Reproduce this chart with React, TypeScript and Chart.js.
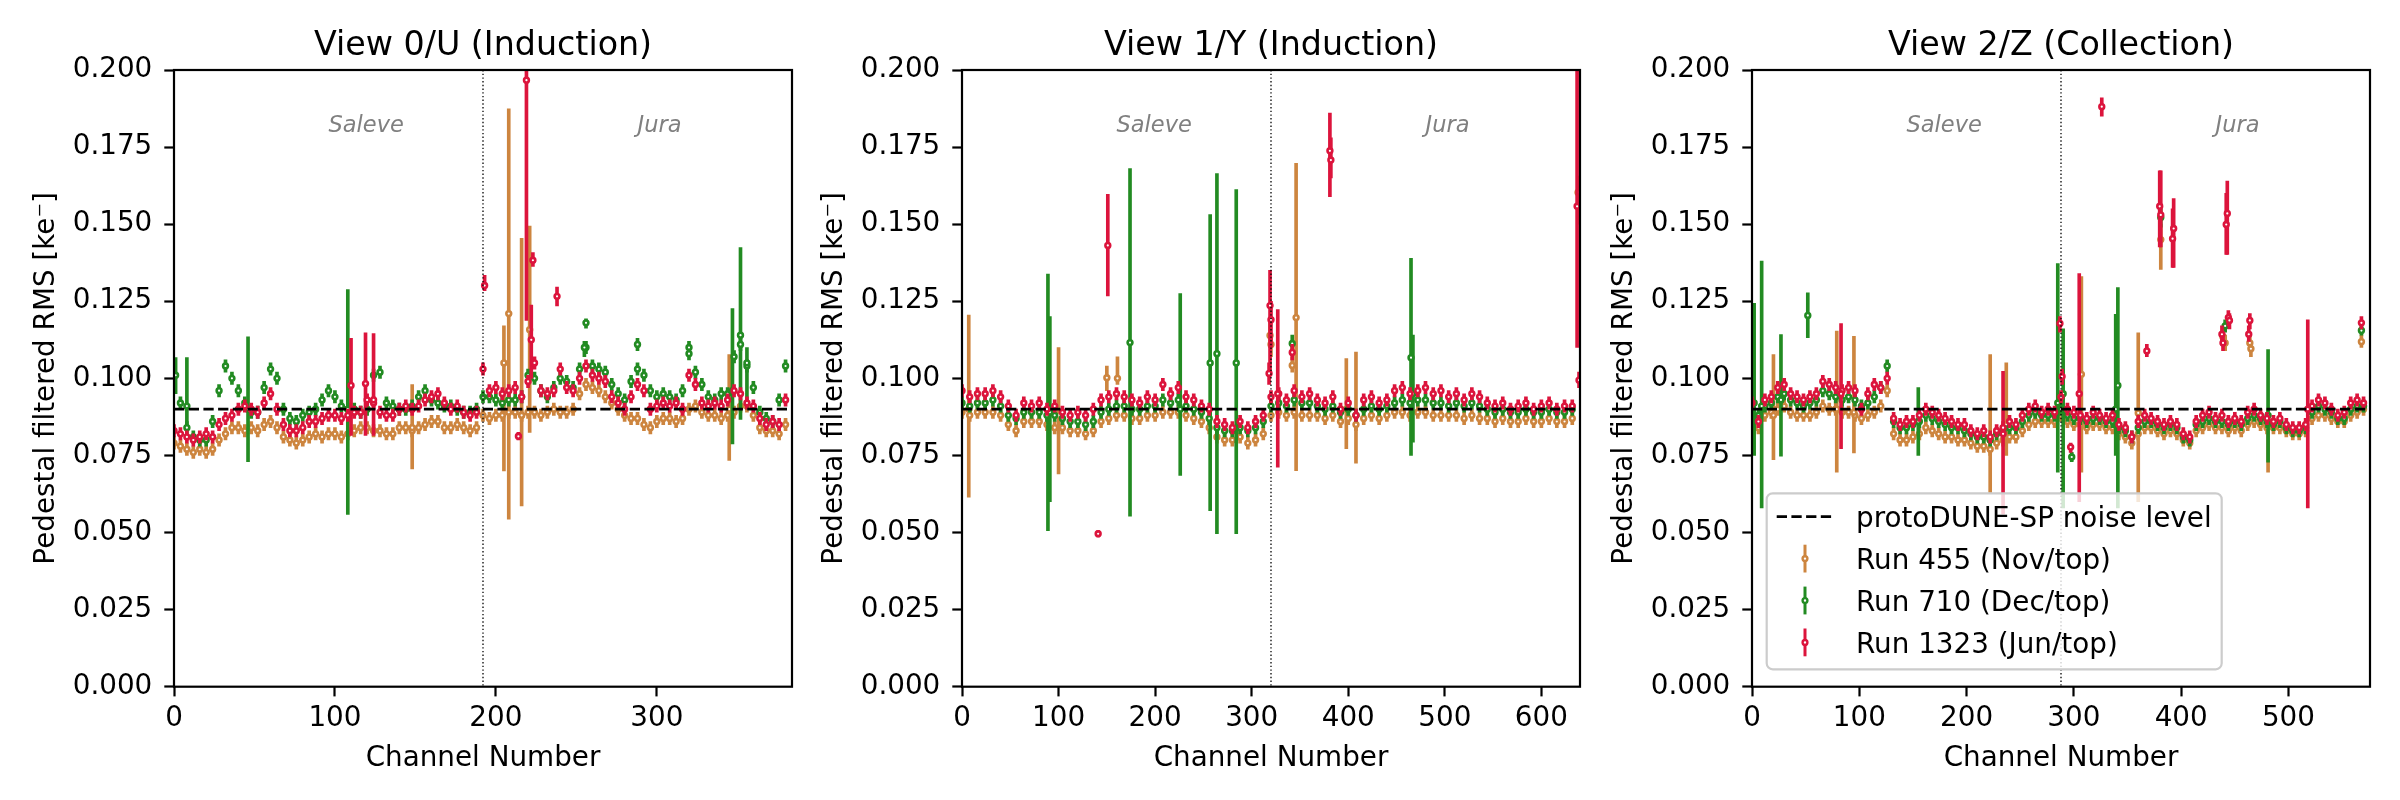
import React, { useEffect, useRef } from "react";
import { Chart, registerables } from "chart.js";
Chart.register(...registerables);
Chart.defaults.font.family = "'DejaVu Sans', sans-serif";
Chart.defaults.color = "#000";

// ---------- data ----------
const PANEL_TITLES = ["View 0/U (Induction)", "View 1/Y (Induction)", "View 2/Z (Collection)"];
const PANEL_CHANNELS = [384, 640, 576];
const PANEL_STEPS = [4, 8, 6];
const DIVIDERS = [192, 320, 288];
const REGION_LABELS = ["Saleve", "Jura"];
const RUN_LABELS = ["Run 455 (Nov/top)", "Run 710 (Dec/top)", "Run 1323 (Jun/top)"];
const RUN_COLORS = ["#CD853F", "#228B22", "#DC143C"];
const NOISE_LABEL = "protoDUNE-SP noise level";
const NOISE_LEVEL = 0.09;
const TYPICAL_ERR = 0.002;
const X_TICKS_P1 = [0, 100, 200, 300];
const X_TICKS_P2 = [0, 100, 200, 300, 400, 500, 600];
const X_TICKS_P3 = [0, 100, 200, 300, 400, 500];
const Y_TICKS = [0, 0.025, 0.05, 0.075, 0.1, 0.125, 0.15, 0.175, 0.2];
const Y_TITLE = "Pedestal filtered RMS [ke\u207B]";
const X_TITLE = "Channel Number";

// base values, units of 1e-3 ke-, sampled every PANEL_STEPS channels
const P1_RUN455 = [
  79, 78, 77, 76, 77, 76, 77, 80, 82, 84, 84, 83,
  84, 83, 85, 86, 84, 81, 80, 79, 80, 81, 82, 81,
  82, 82, 81, 82, 83, 84, 84, 83, 83, 82, 82, 84,
  84, 83, 84, 85, 86, 86, 84, 84, 85, 84, 83, 84,
  88, 87, 88, 88, 89, 89, 88, 89, 89, 88, 89, 90,
  89, 89, 90, 95, 98, 97, 96, 94, 92, 90, 88, 87,
  87, 85, 84, 86, 87, 87, 86, 87, 90, 91, 89, 88,
  88, 87, 88, 89, 91, 91, 88, 84, 83, 83, 82, 85,
];
const P1_RUN710 = [
  101, 92, 84, 81, 80, 80, 86, 96, 104, 100, 96, 92,
  89, 89, 97, 103, 100, 90, 87, 86, 88, 89, 90, 93,
  96, 94, 91, 90, 90, 89, 90, 101, 102, 92, 91, 90,
  90, 91, 94, 96, 93, 92, 91, 91, 90, 89, 89, 90,
  94, 94, 93, 92, 93, 93, 94, 101, 100, 96, 94, 97,
  100, 99, 97, 103, 110, 104, 103, 102, 98, 95, 93, 99,
  103, 101, 96, 94, 95, 94, 93, 96, 108, 102, 98, 94,
  93, 95, 95, 107, 111, 104, 97, 89, 87, 86, 93, 104,
];
const P1_RUN1323 = [
  83, 82, 81, 80, 81, 82, 81, 85, 87, 88, 90, 91,
  90, 89, 92, 95, 90, 85, 83, 83, 84, 86, 86, 87,
  88, 88, 87, 88, 89, 89, 93, 92, 89, 88, 88, 90,
  91, 90, 91, 93, 94, 95, 92, 90, 91, 89, 88, 89,
  103, 96, 97, 95, 96, 97, 94, 99, 105, 96, 95, 96,
  103, 97, 96, 100, 104, 101, 100, 99, 94, 92, 90, 94,
  98, 96, 90, 91, 92, 91, 92, 90, 101, 98, 92, 91,
  92, 91, 93, 96, 95, 92, 91, 87, 85, 86, 85, 93,
];

const P2_RUN455 = [
  89, 88, 89, 89, 89, 88, 85, 83, 86, 86,
  86, 85, 84, 84, 83, 83, 82, 83, 86, 87,
  88, 88, 87, 87, 88, 88, 89, 89, 89, 88,
  87, 86, 84, 81, 80, 80, 81, 79, 80, 82,
  88, 89, 88, 89, 88, 88, 88, 87, 88, 86,
  87, 85, 87, 88, 87, 88, 89, 89, 88, 89,
  89, 88, 88, 88, 88, 87, 88, 87, 87, 86,
  87, 86, 86, 87, 86, 86, 87, 86, 86, 87,
];
const P2_RUN710 = [
  92, 91, 92, 92, 93, 91, 88, 87, 89, 89,
  89, 88, 88, 87, 86, 86, 85, 86, 89, 90,
  91, 91, 90, 90, 91, 91, 93, 92, 93, 91,
  90, 89, 87, 84, 83, 83, 84, 83, 84, 86,
  91, 92, 91, 93, 92, 92, 91, 90, 91, 89,
  90, 88, 90, 91, 90, 91, 92, 93, 92, 93,
  93, 92, 92, 91, 92, 91, 92, 91, 90, 89,
  90, 89, 89, 90, 89, 89, 90, 89, 89, 90,
];
const P2_RUN1323 = [
  96, 94, 95, 95, 96, 94, 91, 88, 92, 91,
  92, 90, 91, 89, 88, 89, 88, 90, 93, 94,
  95, 94, 93, 92, 94, 93, 98, 95, 97, 94,
  93, 91, 90, 86, 85, 84, 86, 84, 86, 88,
  94, 95, 93, 96, 94, 95, 93, 92, 94, 90,
  92, 88, 93, 94, 92, 93, 96, 97, 95, 96,
  97, 95, 96, 94, 95, 93, 95, 94, 92, 91,
  92, 90, 91, 92, 90, 91, 92, 90, 91, 91,
];

const P3_RUN455 = [
  88, 84, 88, 89, 90, 91, 89, 88, 88, 88, 89, 91,
  90, 90, 89, 89, 88, 87, 88, 89, 91, 96, 82, 80,
  80, 81, 82, 84, 83, 82, 81, 81, 80, 80, 79, 78,
  78, 77, 79, 80, 81, 81, 83, 85, 86, 86, 86, 86,
  88, 86, 85, 85, 84, 85, 85, 84, 84, 82, 81, 79,
  82, 84, 84, 83, 82, 83, 82, 80, 79, 83, 84, 85,
  84, 84, 83, 84, 83, 85, 86, 85, 84, 84, 84, 83,
  82, 82, 83, 87, 88, 88, 87, 86, 86, 88, 89, 90,
];
const P3_RUN710 = [
  90, 88, 91, 92, 94, 95, 93, 92, 91, 92, 93, 96,
  95, 94, 93, 94, 93, 91, 92, 94, 97, 104, 86, 84,
  84, 85, 86, 88, 87, 86, 85, 84, 84, 83, 82, 81,
  81, 80, 82, 83, 84, 84, 86, 88, 89, 88, 88, 88,
  90, 88, 87, 87, 86, 87, 87, 86, 86, 84, 83, 81,
  84, 86, 86, 85, 84, 85, 84, 81, 80, 85, 86, 87,
  86, 86, 85, 86, 85, 87, 88, 87, 86, 85, 86, 84,
  83, 83, 84, 89, 91, 90, 89, 87, 87, 90, 91, 91,
];
const P3_RUN1323 = [
  92, 86, 93, 94, 97, 98, 95, 94, 93, 94, 95, 99,
  98, 97, 96, 97, 96, 90, 95, 98, 97, 100, 87, 85,
  86, 86, 88, 90, 89, 88, 87, 86, 85, 85, 83, 82,
  83, 81, 83, 84, 86, 85, 88, 90, 91, 89, 90, 89,
  94, 90, 89, 88, 87, 89, 88, 87, 88, 85, 84, 81,
  86, 88, 87, 86, 85, 86, 85, 82, 81, 86, 88, 89,
  87, 88, 86, 87, 86, 89, 90, 88, 87, 86, 87, 85,
  84, 84, 85, 91, 93, 92, 90, 88, 89, 92, 93, 92,
];

// individual channels with large error bars: [channel, value, low, high] in ke-
const P1_RUN455_OUT = [
  [148, 0.084, 0.0706, 0.098], [205, 0.105, 0.07, 0.117], [208, 0.121, 0.0543, 0.1874],
  [216, 0.088, 0.0586, 0.1454], [221, 0.1158, 0.0825, 0.1494], [345, 0.09, 0.0734, 0.1077],
];
const P1_RUN710_OUT = [
  [1, 0.101, 0.095, 0.1067], [8, 0.091, 0.085, 0.1067], [46, 0.09, 0.073, 0.1135],
  [108, 0.09, 0.0559, 0.1288], [255, 0.11, 0.107, 0.112], [256, 0.118, 0.1163, 0.1193],
  [288, 0.111, 0.109, 0.113], [320, 0.11, 0.108, 0.112], [347, 0.096, 0.0787, 0.1226],
  [352, 0.114, 0.0867, 0.1424], [356, 0.105, 0.09, 0.11],
];
const P1_RUN1323_OUT = [
  [110, 0.0977, 0.0815, 0.113], [119, 0.0983, 0.0815, 0.1148], [124, 0.093, 0.0815, 0.1145],
  [193, 0.1301, 0.1284, 0.1334], [214, 0.0812, 0.08, 0.0825], [219, 0.1967, 0.1188, 0.205],
  [222, 0.1125, 0.1, 0.1238], [223, 0.1383, 0.1363, 0.1408], [238, 0.1266, 0.1235, 0.1296],
];
const P2_RUN455_OUT = [
  [7, 0.09, 0.0615, 0.1205], [100, 0.088, 0.069, 0.11], [150, 0.1002, 0.096, 0.104],
  [161, 0.1, 0.098, 0.107], [319, 0.1139, 0.11, 0.118], [320, 0.111, 0.107, 0.113],
  [342, 0.1042, 0.102, 0.107], [346, 0.1197, 0.0701, 0.1697], [398, 0.09, 0.0772, 0.1064],
  [408, 0.088, 0.0725, 0.1085], [638, 0.1603, 0.15, 0.1656],
];
const P2_RUN710_OUT = [
  [89, 0.09, 0.0506, 0.1338], [91, 0.089, 0.06, 0.12], [174, 0.1116, 0.0553, 0.168],
  [226, 0.09, 0.0685, 0.1275], [257, 0.105, 0.0571, 0.1531], [264, 0.108, 0.0496, 0.1664],
  [284, 0.105, 0.0496, 0.1612], [342, 0.1113, 0.109, 0.114], [465, 0.1067, 0.075, 0.1389],
  [467, 0.095, 0.0793, 0.114],
];
const P2_RUN1323_OUT = [
  [141, 0.0496, 0.0486, 0.0506], [151, 0.1431, 0.1267, 0.1597], [318, 0.1016, 0.098, 0.105],
  [319, 0.1236, 0.1016, 0.135], [320, 0.119, 0.11, 0.125], [327, 0.095, 0.0712, 0.1223],
  [342, 0.1084, 0.106, 0.111], [381, 0.1738, 0.1589, 0.186], [382, 0.1708, 0.165, 0.178],
  [637, 0.1558, 0.11, 0.2], [639, 0.0994, 0.097, 0.102],
];
const P3_RUN455_OUT = [
  [20, 0.088, 0.0736, 0.1077], [79, 0.09, 0.0696, 0.1153], [95, 0.089, 0.0758, 0.1136],
  [222, 0.08, 0.063, 0.1077], [237, 0.085, 0.075, 0.105], [307, 0.1013, 0.0696, 0.133],
  [360, 0.0888, 0.06, 0.1148], [381, 0.145, 0.1353, 0.15], [439, 0.1134, 0.111, 0.116],
  [441, 0.1115, 0.109, 0.114], [464, 0.1115, 0.109, 0.114], [465, 0.1096, 0.107, 0.112],
  [481, 0.085, 0.0696, 0.09], [568, 0.1119, 0.11, 0.114],
];
const P3_RUN710_OUT = [
  [2, 0.092, 0.075, 0.1243], [9, 0.091, 0.058, 0.138], [27, 0.093, 0.0748, 0.1142],
  [52, 0.1204, 0.1132, 0.1277], [155, 0.086, 0.075, 0.097], [285, 0.092, 0.0696, 0.1372],
  [290, 0.095, 0.058, 0.1161], [298, 0.0745, 0.073, 0.076], [339, 0.09, 0.075, 0.1208],
  [341, 0.0977, 0.058, 0.1294], [381, 0.1522, 0.149, 0.155], [441, 0.117, 0.115, 0.119],
  [481, 0.088, 0.0728, 0.1093], [568, 0.1155, 0.114, 0.117],
];
const P3_RUN1323_OUT = [
  [83, 0.095, 0.0772, 0.1178], [234, 0.082, 0.056, 0.1023], [287, 0.1178, 0.115, 0.12],
  [289, 0.1006, 0.098, 0.103], [297, 0.0777, 0.076, 0.079], [305, 0.095, 0.06, 0.134],
  [326, 0.1881, 0.185, 0.191], [368, 0.1089, 0.107, 0.111], [380, 0.1558, 0.1426, 0.1673],
  [381, 0.153, 0.1426, 0.1673], [392, 0.1453, 0.136, 0.155], [393, 0.1486, 0.136, 0.1583],
  [438, 0.1143, 0.112, 0.117], [439, 0.1115, 0.109, 0.114], [442, 0.1499, 0.1402, 0.16],
  [443, 0.1535, 0.1402, 0.164], [444, 0.1197, 0.117, 0.122], [445, 0.1188, 0.116, 0.121],
  [463, 0.1143, 0.112, 0.117], [464, 0.1188, 0.116, 0.121], [518, 0.09, 0.058, 0.119],
  [568, 0.118, 0.116, 0.12],
];

const SERIES = [
  [P1_RUN455, P1_RUN710, P1_RUN1323],
  [P2_RUN455, P2_RUN710, P2_RUN1323],
  [P3_RUN455, P3_RUN710, P3_RUN1323],
];
const OUTLIERS = [
  [P1_RUN455_OUT, P1_RUN710_OUT, P1_RUN1323_OUT],
  [P2_RUN455_OUT, P2_RUN710_OUT, P2_RUN1323_OUT],
  [P3_RUN455_OUT, P3_RUN710_OUT, P3_RUN1323_OUT],
];
const X_TICKS = [X_TICKS_P1, X_TICKS_P2, X_TICKS_P3];

// ---------- layout / style ----------
const CANVAS_LEFT = [0, 788, 1578];
const CANVAS_W = 800;
const CANVAS_H = 800;
const Y_AXIS_W = 174;
const X_AXIS_H = 113.3;
const FONT = '"DejaVu Sans"';
const FS = 27.8;

function decorPlugin(p: number) {
  return {
    id: "decor" + p,
    afterDatasetsDraw(chart: any) {
      const { ctx, chartArea: a, scales } = chart;
      const x = scales.x;
      const y = scales.y;
      const N = PANEL_CHANNELS[p];
      ctx.save();
      ctx.beginPath();
      ctx.rect(a.left, a.top, a.right - a.left, a.bottom - a.top);
      ctx.clip();
      // divider (dotted)
      const xd = x.getPixelForValue(DIVIDERS[p]);
      ctx.strokeStyle = "#000";
      ctx.lineWidth = 1.3;
      ctx.setLineDash([1.4, 2.3]);
      ctx.beginPath();
      ctx.moveTo(xd, a.top);
      ctx.lineTo(xd, a.bottom);
      ctx.stroke();
      // noise level (dashed)
      const yn = y.getPixelForValue(NOISE_LEVEL);
      ctx.lineWidth = 2.78;
      ctx.setLineDash([10.3, 4.4]);
      ctx.beginPath();
      ctx.moveTo(a.left, yn);
      ctx.lineTo(a.right, yn);
      ctx.stroke();
      ctx.setLineDash([]);
      // region labels
      ctx.fillStyle = "#808080";
      ctx.font = `italic 22.5px ${FONT}`;
      ctx.textAlign = "left";
      ctx.textBaseline = "alphabetic";
      const ly = y.getPixelForValue(0.18);
      ctx.fillText(REGION_LABELS[0], x.getPixelForValue(N * 0.25), ly);
      ctx.fillText(REGION_LABELS[1], x.getPixelForValue(N * 0.75), ly);
      ctx.restore();

      // frame
      ctx.save();
      ctx.strokeStyle = "#000";
      ctx.lineWidth = 2.2;
      ctx.strokeRect(a.left, a.top, a.right - a.left, a.bottom - a.top);
      // title
      ctx.fillStyle = "#000";
      ctx.font = `33.3px ${FONT}`;
      ctx.textAlign = "center";
      ctx.textBaseline = "alphabetic";
      ctx.fillText(PANEL_TITLES[p], (a.left + a.right) / 2, 54.5);
      ctx.restore();

      if (p === 2) drawLegend(ctx, a);
    },
  };
}

function drawLegend(ctx: CanvasRenderingContext2D, a: any) {
  const w = 455;
  const h = 176;
  const left = a.left + 14.7;
  const top = a.bottom - 17.4 - h;
  const r = 6;
  ctx.save();
  ctx.beginPath();
  ctx.moveTo(left + r, top);
  ctx.lineTo(left + w - r, top);
  ctx.arcTo(left + w, top, left + w, top + r, r);
  ctx.lineTo(left + w, top + h - r);
  ctx.arcTo(left + w, top + h, left + w - r, top + h, r);
  ctx.lineTo(left + r, top + h);
  ctx.arcTo(left, top + h, left, top + h - r, r);
  ctx.lineTo(left, top + r);
  ctx.arcTo(left, top, left + r, top, r);
  ctx.closePath();
  ctx.fillStyle = "rgba(255,255,255,0.8)";
  ctx.fill();
  ctx.strokeStyle = "#cccccc";
  ctx.lineWidth = 2.2;
  ctx.stroke();

  const rowY = (k: number) => top + 23.4 + k * 41.9;
  const textX = left + 89.3;
  ctx.font = `${FS}px ${FONT}`;
  ctx.textAlign = "left";
  ctx.textBaseline = "alphabetic";
  // noise
  ctx.strokeStyle = "#000";
  ctx.lineWidth = 2.78;
  ctx.setLineDash([10.3, 4.4]);
  ctx.beginPath();
  ctx.moveTo(left + 10, rowY(0));
  ctx.lineTo(left + 65, rowY(0));
  ctx.stroke();
  ctx.setLineDash([]);
  ctx.fillStyle = "#000";
  ctx.fillText(NOISE_LABEL, textX, rowY(0) + 10.1);
  // runs
  for (let k = 0; k < 3; k++) {
    const cy = rowY(k + 1);
    const cx = left + 38.3;
    ctx.fillStyle = RUN_COLORS[k];
    ctx.fillRect(cx - 1.5, cy - 13.9, 3, 27.8);
    ctx.beginPath();
    ctx.arc(cx, cy, 2.4, 0, Math.PI * 2);
    ctx.fillStyle = "#fff";
    ctx.fill();
    ctx.lineWidth = 2.4;
    ctx.strokeStyle = RUN_COLORS[k];
    ctx.stroke();
    ctx.fillStyle = "#000";
    ctx.fillText(RUN_LABELS[k], textX, cy + 10.1);
  }
  ctx.restore();
}

function makeConfig(p: number): any {
  const N = PANEL_CHANNELS[p];
  const step = PANEL_STEPS[p];
  const datasets: any[] = [];
  for (let r = 0; r < 3; r++) {
    const base = SERIES[p][r];
    const outl = OUTLIERS[p][r];
    const pts = base
      .map((v, i) => ({ x: i * step, y: v / 1000 }))
      .concat(outl.map((o) => ({ x: o[0], y: o[1] })));
    const bars = base
      .map((v, i) => ({ x: i * step, y: [v / 1000 - TYPICAL_ERR, v / 1000 + TYPICAL_ERR] }))
      .concat(outl.map((o) => ({ x: o[0], y: [o[2], o[3]] })));
    datasets.push({
      type: "bar",
      label: RUN_LABELS[r] + " error",
      data: bars,
      backgroundColor: RUN_COLORS[r],
      borderWidth: 0,
      barThickness: 3,
      grouped: false,
      order: 5 - 2 * r,
    });
    datasets.push({
      type: "scatter",
      label: RUN_LABELS[r],
      data: pts,
      pointRadius: 2.4,
      pointBorderWidth: 2.6,
      pointBackgroundColor: "#fff",
      pointBorderColor: RUN_COLORS[r],
      borderColor: RUN_COLORS[r],
      backgroundColor: "#fff",
      showLine: false,
      clip: 0,
      order: 4 - 2 * r,
    });
  }
  const tickGrid = {
    display: true,
    drawOnChartArea: false,
    drawTicks: true,
    offset: false,
    tickLength: 9.7,
    tickWidth: 2.2,
    tickColor: "#000",
  };
  return {
    type: "scatter",
    data: { datasets },
    options: {
      responsive: false,
      animation: false,
      events: [],
      layout: { padding: { top: 70, left: 0, right: CANVAS_W - Y_AXIS_W - 618, bottom: 0 } },
      plugins: { legend: { display: false }, tooltip: { enabled: false }, title: { display: false } },
      scales: {
        x: {
          type: "linear",
          min: 0,
          max: N,
          offset: false,
          grid: tickGrid,
          border: { display: false },
          ticks: { font: { size: FS }, color: "#000", padding: 6, maxRotation: 0, autoSkip: false },
          title: { display: true, text: X_TITLE, color: "#000", font: { size: FS }, padding: { top: 0, bottom: 25 } },
          afterBuildTicks: (s: any) => {
            s.ticks = X_TICKS[p].map((v) => ({ value: v }));
          },
          afterFit: (s: any) => {
            s.height = X_AXIS_H;
          },
        },
        y: {
          type: "linear",
          min: 0,
          max: 0.2,
          grid: tickGrid,
          border: { display: false },
          ticks: {
            font: { size: FS },
            color: "#000",
            padding: 12,
            autoSkip: false,
            callback: (v: any) => Number(v).toFixed(3),
          },
          title: { display: true, text: Y_TITLE, color: "#000", font: { size: FS }, padding: { top: 30, bottom: 0 } },
          afterBuildTicks: (s: any) => {
            s.ticks = Y_TICKS.map((v) => ({ value: v }));
          },
          afterFit: (s: any) => {
            s.width = Y_AXIS_W;
          },
        },
      },
    },
    plugins: [decorPlugin(p)],
  };
}

export default function App() {
  const r0 = useRef<HTMLCanvasElement>(null);
  const r1 = useRef<HTMLCanvasElement>(null);
  const r2 = useRef<HTMLCanvasElement>(null);
  useEffect(() => {
    const refs = [r0, r1, r2];
    const charts = refs.map((r, i) => new Chart(r.current as HTMLCanvasElement, makeConfig(i)));
    return () => charts.forEach((c) => c.destroy());
  }, []);
  const refs = [r0, r1, r2];
  return (
    <div
      style={{
        position: "absolute",
        left: 0,
        top: 0,
        width: 2400,
        height: 800,
        background: "#fff",
        overflow: "hidden",
      }}
    >
      {refs.map((r, i) => (
        <canvas
          key={i}
          ref={r}
          width={CANVAS_W}
          height={CANVAS_H}
          style={{ position: "absolute", left: CANVAS_LEFT[i], top: 0, width: CANVAS_W, height: CANVAS_H }}
        />
      ))}
    </div>
  );
}
